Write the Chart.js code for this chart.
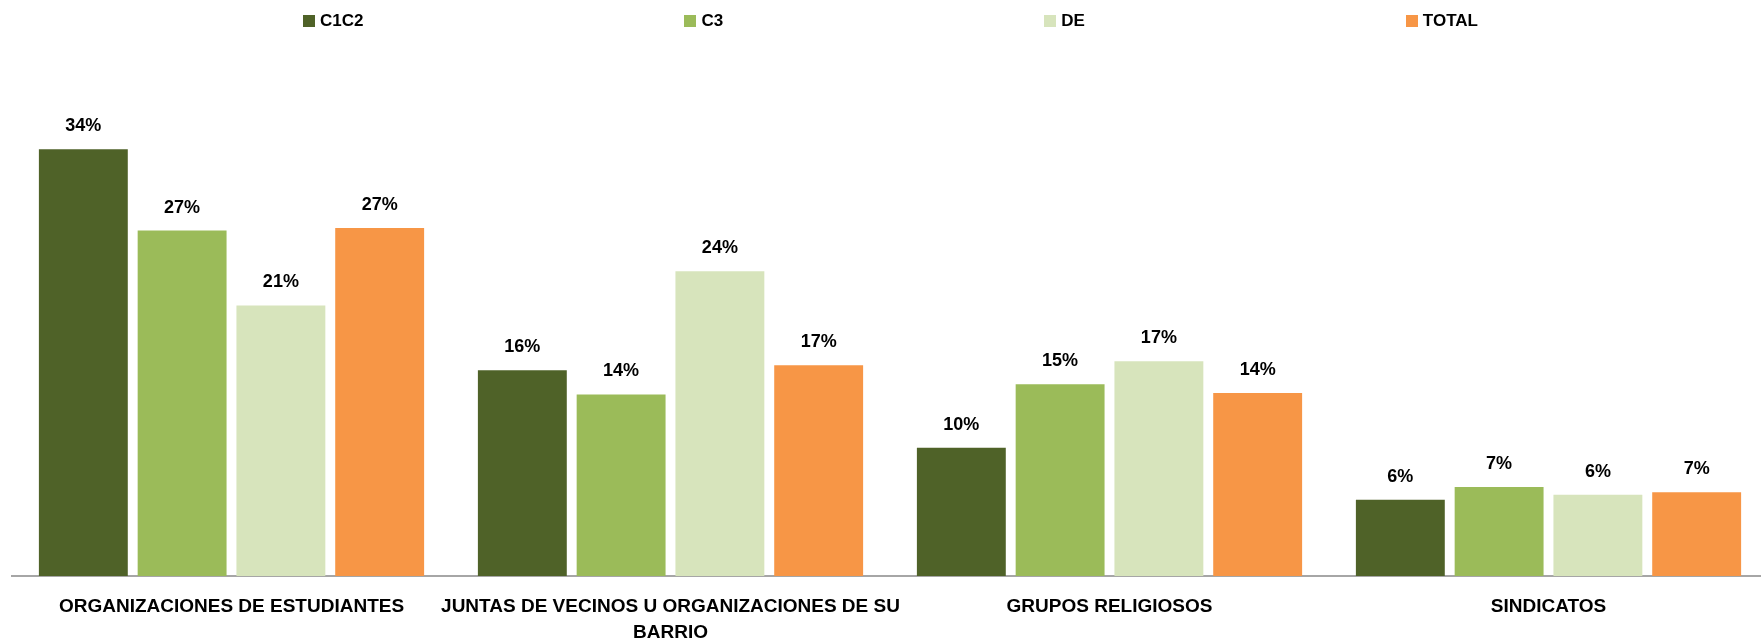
<!DOCTYPE html>
<html>
<head>
<meta charset="utf-8">
<script src="https://cdn.jsdelivr.net/npm/chart.js@4"></script>
<style>
  body { margin: 0; background: #fff; overflow: hidden; }
  #wrap { position: relative; width: 1761px; height: 638px; overflow: hidden; }
  #legend {
    position: absolute; top: 11px; left: 303px;
    display: flex; gap: 321px;
    font: bold 17px "Liberation Sans", Arial, sans-serif; color: #000;
  }
  #legend .item { display: flex; align-items: center; white-space: nowrap; }
  #legend .box { width: 12px; height: 12px; margin-right: 5px; }
</style>
</head>
<body>
<div id="wrap">
  <canvas id="chart" width="1768" height="638"></canvas>
  <div id="legend"></div>
</div>
<script>
const categories = [
  'ORGANIZACIONES DE ESTUDIANTES',
  ['JUNTAS DE VECINOS U ORGANIZACIONES DE SU', 'BARRIO'],
  'GRUPOS RELIGIOSOS',
  'SINDICATOS'
];
const c1c2 = [33.6, 16.2, 10.1, 6.0];
const c3 = [27.2, 14.3, 15.1, 7.0];
const de = [21.3, 24.0, 16.9, 6.4];
const total = [27.4, 16.6, 14.4, 6.6];

const font = '"Liberation Sans", Arial, sans-serif';

// percent labels above each bar
const barLabels = {
  id: 'barLabels',
  afterDatasetsDraw(chart) {
    const ctx = chart.ctx;
    ctx.save();
    ctx.font = 'bold 18px ' + font;
    ctx.fillStyle = '#000';
    ctx.textAlign = 'center';
    ctx.textBaseline = 'alphabetic';
    chart.data.datasets.forEach((ds, i) => {
      chart.getDatasetMeta(i).data.forEach((bar, j) => {
        ctx.fillText(Math.round(ds.data[j]) + '%', bar.x, bar.y - 18);
      });
    });
    ctx.restore();
  }
};

const chart = new Chart(document.getElementById('chart'), {
  type: 'bar',
  data: {
    labels: categories,
    datasets: [
      { label: 'C1C2', data: c1c2, backgroundColor: '#4f6228' },
      { label: 'C3', data: c3, backgroundColor: '#9bbb59' },
      { label: 'DE', data: de, backgroundColor: '#d7e4bc' },
      { label: 'TOTAL', data: total, backgroundColor: '#f79646' }
    ]
  },
  options: {
    responsive: false,
    animation: false,
    categoryPercentage: 0.9,
    barPercentage: 0.9,
    layout: { padding: { left: 12, right: 0, top: 68, bottom: 0 } },
    plugins: {
      legend: { display: false },
      tooltip: { enabled: false }
    },
    scales: {
      y: { display: false, min: 0, max: 40 },
      x: {
        grid: { display: false, drawTicks: false },
        border: { display: true, color: '#a6a6a6', width: 2 },
        ticks: {
          color: '#000',
          padding: 17,
          maxRotation: 0,
          autoSkip: false,
          font: { family: font, size: 19, weight: 'bold', lineHeight: 1.4 }
        },
        afterFit(scale) { scale.height = 62; }
      }
    }
  },
  plugins: [barLabels]
});

const legend = document.getElementById('legend');
chart.data.datasets.forEach(ds => {
  const item = document.createElement('div');
  item.className = 'item';
  const box = document.createElement('span');
  box.className = 'box';
  box.style.background = ds.backgroundColor;
  const txt = document.createElement('span');
  txt.textContent = ds.label;
  item.appendChild(box);
  item.appendChild(txt);
  legend.appendChild(item);
});
</script>
</body>
</html>
